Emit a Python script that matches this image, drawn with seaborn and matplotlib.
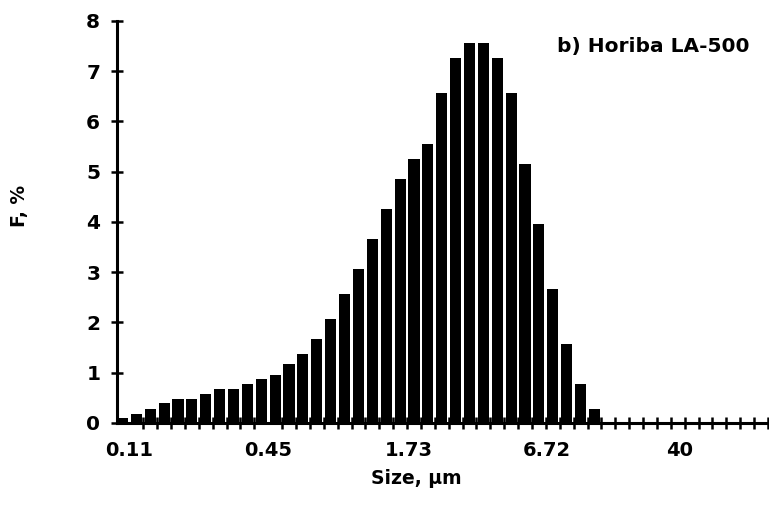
import numpy as np
import pandas as pd
import matplotlib
matplotlib.use("Agg")
import matplotlib.pyplot as plt
import seaborn as sns

# Frequency (%) per size channel of the Horiba LA-500 analyser
channel = list(range(47))
freq = [0.09, 0.17, 0.28, 0.39, 0.48, 0.47, 0.57, 0.67, 0.68, 0.78,
        0.88, 0.96, 1.17, 1.37, 1.67, 2.07, 2.57, 3.06, 3.66, 4.26,
        4.86, 5.25, 5.55, 6.57, 7.26, 7.56, 7.56, 7.26, 6.57, 5.15,
        3.96, 2.67, 1.57, 0.78, 0.28, 0.0, 0.0, 0.0, 0.0, 0.0,
        0.0, 0.0, 0.0, 0.0, 0.0, 0.0, 0.0]

# Size labels shown along the axis (µm)
size_labels = ["0.11", "0.45", "1.73", "6.72", "40"]
y_ticks = [0, 1, 2, 3, 4, 5, 6, 7, 8]

df = pd.DataFrame({"channel": channel, "freq": freq})

sns.set_theme(style="ticks")
plt.rcParams["font.family"] = ["DejaVu Sans"]
plt.rcParams["font.weight"] = "bold"

fig = plt.figure(figsize=(7.69, 5.17), dpi=100)
ax = fig.add_axes([0.152, 0.182, 0.8467, 0.7778])
ax.set_axisbelow(True)

sns.barplot(data=df, x="channel", y="freq", color="black", width=0.8,
            saturation=1, linewidth=0, ax=ax, zorder=2)

n = len(channel)
ax.set_xlim(-0.4, n - 0.5)
ax.set_ylim(0, 8)

# channel boundaries as cross ticks, labels at selected sizes
ax.set_xticks(np.arange(n) + 0.5, minor=True)
ax.set_xticks([0.5, 10.5, 20.6, 30.6, 40.1])
ax.set_xticklabels(size_labels)
ax.tick_params(axis="x", which="major", length=0, pad=13, labelsize=14)
ax.tick_params(axis="x", which="minor", direction="inout", length=8,
               width=1.8, color="black")

ax.set_yticks(y_ticks)
ax.set_yticklabels([str(v) for v in y_ticks])
ax.tick_params(axis="y", direction="inout", length=8, width=1.8,
               color="black", pad=8, labelsize=14.5)

for s in ["top", "right"]:
    ax.spines[s].set_visible(False)
for s in ["left", "bottom"]:
    ax.spines[s].set_linewidth(2.2)
    ax.spines[s].set_color("black")
    ax.spines[s].set_zorder(3)

for lab in ax.get_xticklabels() + ax.get_yticklabels():
    lab.set_fontweight("bold")
    lab.set_color("black")

ax.set_xlabel("Size, µm", fontsize=13.5, fontweight="bold", color="black")
ax.xaxis.set_label_coords(0.46, -0.115)
ax.set_ylabel("F, %", fontsize=13.5, fontweight="bold", color="black")
ax.yaxis.set_label_coords(-0.135, 0.54)

ax.text(0.972, 0.935, "b) Horiba LA-500", transform=ax.transAxes,
        ha="right", va="center", fontsize=14.5, fontweight="bold",
        color="black")

fig.savefig("out.png", dpi=100)
